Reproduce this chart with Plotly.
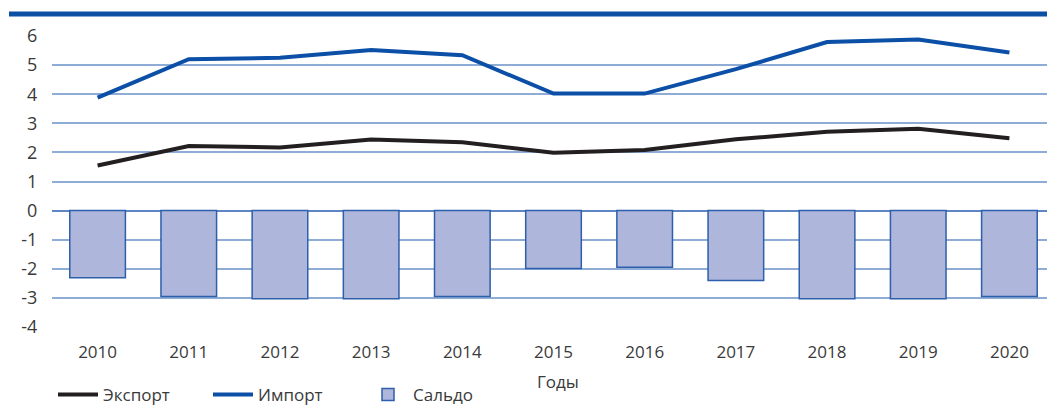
import plotly.graph_objects as go

years = ["2010", "2011", "2012", "2013", "2014", "2015", "2016", "2017", "2018", "2019", "2020"]
export_vals = [1.55, 2.22, 2.17, 2.44, 2.35, 1.99, 2.08, 2.45, 2.71, 2.81, 2.49]
import_vals = [3.88, 5.20, 5.25, 5.52, 5.34, 4.02, 4.02, 4.86, 5.79, 5.88, 5.43]
saldo_vals = [-2.31, -2.95, -3.03, -3.03, -2.95, -1.99, -1.95, -2.40, -3.03, -3.03, -2.95]
y_ticks = [6, 5, 4, 3, 2, 1, 0, -1, -2, -3, -4]
x_title = "Годы"

FONT = "Open Sans"
TXT = "#3a3a3a"

# page has an 8px body margin, so the figure is 8px smaller than the window
W, H = 1047, 397
L, T, B = 44, 28, 78
PH = H - T - B  # plot height
PW = W - L      # plot width

fig = go.Figure()
fig.add_trace(go.Bar(
    x=years, y=saldo_vals, name="Сальдо",
    marker=dict(color="#aeb6dc", line=dict(color="#2d5fab", width=1.5)),
    width=0.61, legendrank=3,
))
fig.add_trace(go.Scatter(
    x=years, y=export_vals, name="Экспорт", mode="lines",
    line=dict(color="#231f20", width=4), legendrank=1,
))
fig.add_trace(go.Scatter(
    x=years, y=import_vals, name="Импорт", mode="lines",
    line=dict(color="#0b4fa6", width=4), legendrank=2,
))

fig.update_layout(
    width=W, height=H,
    margin=dict(l=L, r=0, t=T, b=B, autoexpand=False),
    paper_bgcolor="white", plot_bgcolor="white",
    font=dict(family=FONT, color=TXT, size=16),
    showlegend=True,
    legend=dict(
        orientation="h", xref="container", yref="container",
        x=45 / W, xanchor="left", y=(H - 387) / H, yanchor="middle",
        font=dict(size=17, color=TXT),
        entrywidth=100, entrywidthmode="pixels",
        itemwidth=40,
    ),
    shapes=[dict(
        type="line", xref="paper", yref="paper",
        x0=(1 - L) / PW, x1=1.0, y0=1 + (T - 6) / PH, y1=1 + (T - 6) / PH,
        line=dict(color="#0d4fa3", width=5),
    )],
    annotations=[dict(
        text=x_title, xref="paper", yref="paper",
        x=(550 - L) / PW, y=-(373 - (T + PH)) / PH,
        xanchor="center", yanchor="middle", showarrow=False,
        font=dict(size=17, color=TXT),
    )],
)

fig.update_xaxes(
    type="category", range=[-0.5, 10.5], automargin=False,
    showgrid=False, showline=False, zeroline=False,
    ticks="outside", ticklen=10, tickcolor="rgba(0,0,0,0)",
    tickfont=dict(size=17, color=TXT),
)
fig.update_yaxes(
    range=[-4, 6], tickvals=y_ticks, ticktext=[str(v) for v in y_ticks],
    automargin=False,
    showgrid=True, gridcolor="#8eacd6", gridwidth=2,
    zeroline=True, zerolinecolor="#5f86c4", zerolinewidth=2,
    showline=False,
    ticks="outside", ticklen=10, tickcolor="rgba(0,0,0,0)",
    tickfont=dict(size=18, color=TXT),
)

fig.write_html("out.html")
